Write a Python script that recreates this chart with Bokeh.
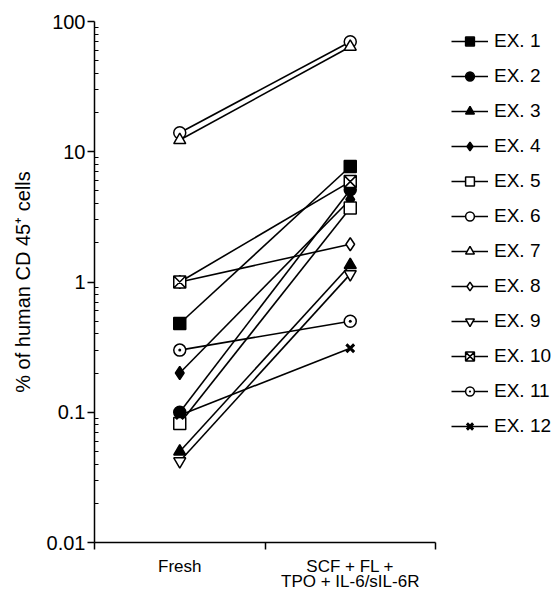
from bokeh.plotting import figure
from bokeh.models import (Range1d, LinearAxis, FixedTicker, Legend, LegendItem,
                          NumeralTickFormatter)
from bokeh.embed import file_html
from bokeh.resources import INLINE

# ---- data ----
conditions = ["Fresh", "SCF + FL +\nTPO + IL-6/sIL-6R"]
experiments = ["EX. 1", "EX. 2", "EX. 3", "EX. 4", "EX. 5", "EX. 6",
               "EX. 7", "EX. 8", "EX. 9", "EX. 10", "EX. 11", "EX. 12"]
fresh = [0.48, 0.10, 0.05, 0.20, 0.082, 14.0, 12.3, 1.0, 0.042, 1.0, 0.30, 0.095]
treated = [7.7, 5.1, 1.35, 4.3, 3.7, 70.0, 64.0, 1.95, 1.15, 5.9, 0.50, 0.31]
y_ticks = [0.01, 0.1, 1, 10, 100]

# ---- styles ----
markers = ["square", "circle", "triangle", "diamond", "square", "circle",
           "triangle", "diamond", "inverted_triangle", "square_x", "circle_dot", "x"]
filled = [True, True, True, True, False, False, False, False, False, False, False, True]
sizes = [12, 12, 12, 13, 12, 12, 12, 13, 12, 12, 12, 11]

FONT = "Liberation Sans"
INK = "black"

# category slots: centre of slot i is at i + 0.5, slot edges at integers
cat_pos = [i + 0.5 for i in range(len(conditions))]
cat_edges = list(range(len(conditions) + 1))

p = figure(x_range=Range1d(0, len(conditions)),
           y_range=Range1d(0.01, 100), y_axis_type="log",
           x_axis_location=None, output_backend="svg", toolbar_location=None)
p.frame_width = 341
p.frame_height = 521
p.min_border_left = 94
p.min_border_top = 21
p.min_border_right = 118
p.min_border_bottom = 0
p.outline_line_color = None
p.grid.visible = False
p.background_fill_color = "white"

# y axis
ya = p.yaxis[0]
minor = [m * 10.0 ** e for e in range(-2, 2) for m in range(2, 10)]
ya.ticker = FixedTicker(ticks=y_ticks, minor_ticks=minor)
ya.formatter = NumeralTickFormatter(format="0.[00]")
ya.axis_label = "% of human CD 45\u207a cells"
ya.axis_label_text_font = FONT
ya.axis_label_text_font_size = "20px"
ya.axis_label_text_font_style = "normal"
ya.axis_label_text_color = INK
ya.axis_label_standoff = 10
ya.major_label_text_font = FONT
ya.major_label_text_font_size = "20px"
ya.major_label_text_color = INK
ya.major_label_standoff = 2
ya.axis_line_color = INK
ya.axis_line_width = 1.5
ya.major_tick_line_color = INK
ya.major_tick_line_width = 1.5
ya.major_tick_in = 0
ya.major_tick_out = 7
ya.minor_tick_line_color = INK
ya.minor_tick_in = 4
ya.minor_tick_out = 0
ya.minor_tick_line_width = 1.2

# x axis: labels at slot centres, tick marks at slot edges
xa = LinearAxis(ticker=FixedTicker(ticks=cat_pos, minor_ticks=cat_edges),
                major_label_overrides={cp: c for cp, c in zip(cat_pos, conditions)},
                axis_line_width=1.5, axis_line_color=INK,
                major_tick_line_color=None, major_tick_in=0, major_tick_out=0,
                minor_tick_line_color=INK,
                minor_tick_line_width=1.5, minor_tick_in=0, minor_tick_out=7,
                major_label_text_font=FONT,
                major_label_text_color=INK,
                major_label_text_font_size="17px",
                major_label_text_line_height=0.8,
                major_label_standoff=7)
p.add_layout(xa, "below")

items = []
for i, name in enumerate(experiments):
    ys = [fresh[i], treated[i]]
    ln = p.line(cat_pos, ys, line_color=INK, line_width=1.6)
    sc = p.scatter(cat_pos, ys, marker=markers[i], size=sizes[i],
                   line_color=INK, line_width=1.5 if markers[i] != "x" else 3,
                   fill_color=INK if filled[i] else "white")
    items.append(LegendItem(label=name, renderers=[ln, sc]))

legend = Legend(items=items, location=(16, 105), margin=0, padding=0,
                glyph_width=37, glyph_height=22, label_height=22, spacing=13,
                label_standoff=6, label_text_font=FONT, label_text_color=INK,
                label_text_font_size="19px", border_line_color=None,
                background_fill_alpha=0)
p.add_layout(legend, "right")

open("out.html", "w").write(file_html(p, INLINE))
